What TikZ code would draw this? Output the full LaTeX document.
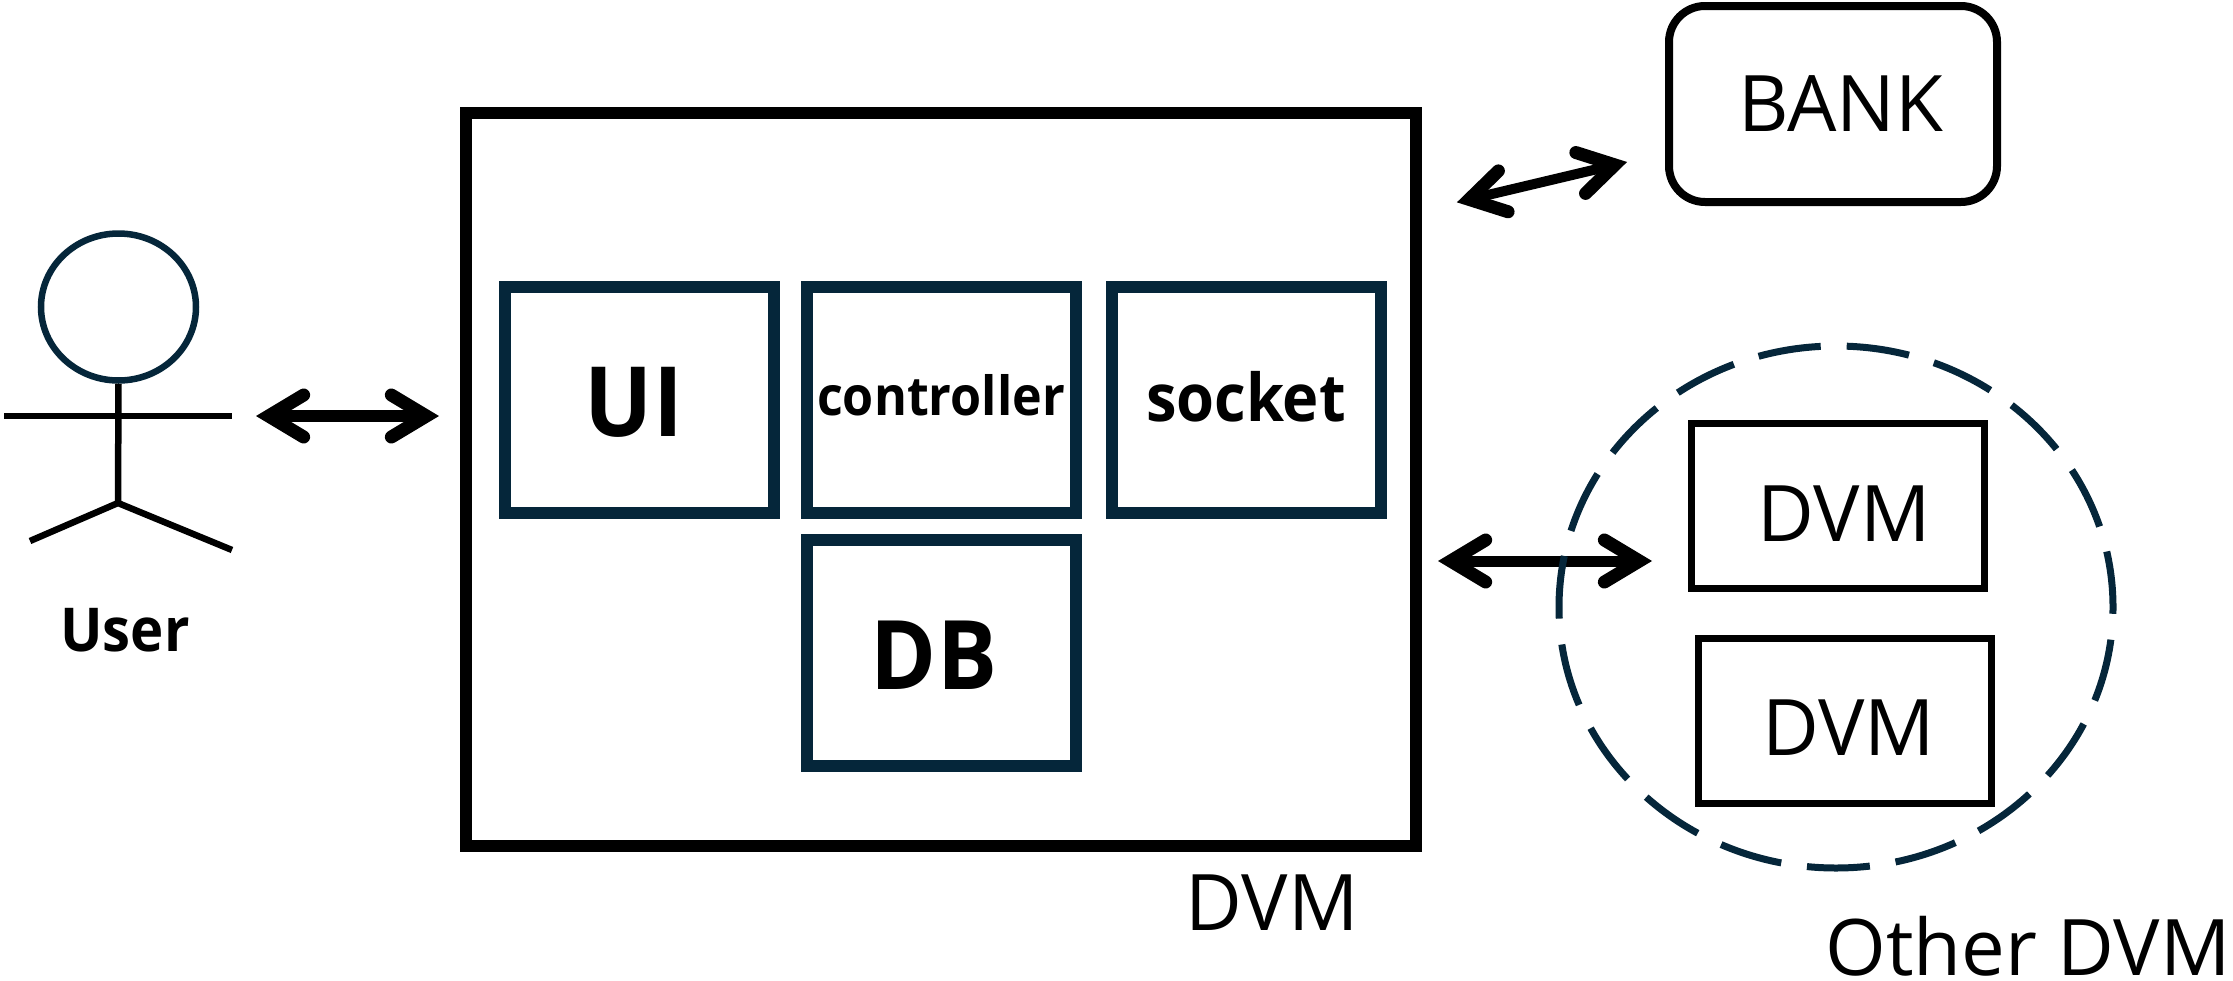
\documentclass[tikz,border=0pt]{standalone}
\usepackage{fontspec}
\setmainfont{Open Sans}
\newfontfamily\narrowbold[FakeStretch=0.93]{Open Sans}
\usetikzlibrary{arrows.meta,shapes.geometric}
\definecolor{navy}{HTML}{05263A}
\tikzset{
	partbox/.style={draw=navy,line width=12pt,minimum width=269pt,minimum height=226pt,inner sep=0pt,text depth=0pt,font=\narrowbold\bfseries},
	peerbox/.style={draw=black,line width=7pt,minimum width=293pt,minimum height=165pt,inner sep=0pt,text depth=0pt,font=\fontsize{78}{80}\selectfont},
	biglabel/.style={anchor=base,inner sep=0pt,font=\fontsize{78}{80}\selectfont},
	limb/.style={line width=6.5pt},
	dblarrow/.style={line width=#1,{Straight Barb[length=35pt,width=42pt,line width=13pt,line cap=round,line join=miter]}-{Straight Barb[length=35pt,width=42pt,line width=13pt,line cap=round,line join=miter]}}
}
\begin{document}
\begin{tikzpicture}[x=1pt,y=-1pt]
		\useasboundingbox (0,0) rectangle (2233,980);
		% Stick figure
		\node[draw=navy,line width=6.5pt,ellipse,minimum width=155pt,minimum height=147pt,inner sep=0pt] (head) at (118.5,307) {};
		\coordinate (armleft) at (4,416);
		\coordinate (armright) at (232,416);
		\coordinate (hip) at (118,503);
		\coordinate (footleft) at (30,541);
		\coordinate (footright) at (232,550);
		\draw[limb] (head.south) -- (hip);
		\draw[limb] (armleft) -- (armright);
		\draw[limb] (footleft) -- (hip) -- (footright);
		\node[anchor=base,inner sep=0pt,font=\narrowbold\bfseries\fontsize{60.5}{62}\selectfont] (user) at (125,651) {User};
		% Main system
		\node[draw=black,line width=12pt,minimum width=950pt,minimum height=733pt,inner sep=0pt] (dvm) at (941,479.5) {};
		\node[partbox,text height=73pt] (ui) at (639,399.5) {\fontsize{97}{100}\selectfont UI\hspace*{10pt}};
		\node[partbox,text height=32pt] (controller) at (941,399.5) {\fontsize{54}{55}\selectfont controller};
		\node[partbox,text height=43pt] (socket) at (1246,399.5) {\fontsize{66}{68}\selectfont socket};
		\node[partbox,text height=72pt] (db) at (941,653) {\fontsize{96}{100}\selectfont DB\hspace*{14pt}};
		\node[biglabel] (dvmlabel) at (1272,930) {DVM};
		% External parts
		\node[draw=black,line width=8pt,rounded corners=36pt,minimum width=328pt,minimum height=196pt,inner sep=0pt,font=\fontsize{78}{80}\selectfont] (bank) at (1833,104) {\hspace*{16pt}BANK};
		\node[peerbox,text height=70pt] (peera) at (1838,506) {\hspace*{12pt}DVM};
		\node[peerbox,text height=69pt] (peerb) at (1845,720.5) {\hspace*{7pt}DVM};
		% Double arrows
		\coordinate (dvmport) at (1416,212);
		\coordinate (bankport) at (1665,153);
		\coordinate (peerport) at (1688,561);
		\draw[dblarrow=12pt,shorten <=24pt,shorten >=21pt] (armright) -- (dvm.west |- armright);
		\draw[dblarrow=10pt,shorten <=42pt,shorten >=39pt] (dvmport) -- (bankport);
		\draw[dblarrow=11pt,shorten <=16pt,shorten >=36pt] (dvm.east |- peerport) -- (peerport);
		% Other machines
		\node[draw=navy,line width=7pt,ellipse,dash pattern=on 63pt off 26pt,dash phase=7pt,minimum width=554pt,minimum height=522pt,inner sep=0pt] (others) at (1836,607) {};
		\node[biglabel] (otherlabel) at (2028,975) {Other DVM};
	\end{tikzpicture}
\end{document}
